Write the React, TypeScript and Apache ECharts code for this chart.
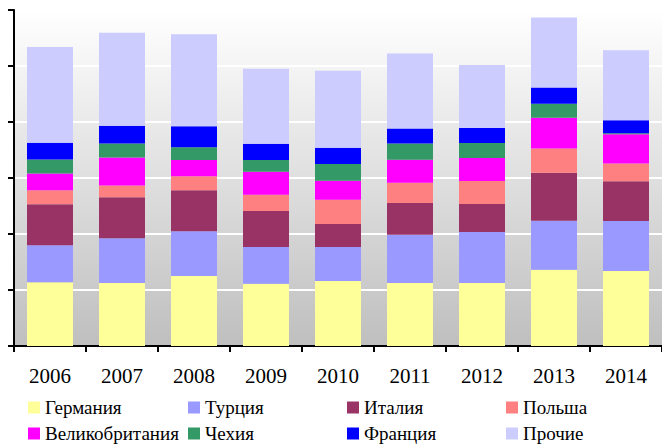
import React, { useEffect, useRef } from "react";
import * as echarts from "echarts";

const years = ["2006", "2007", "2008", "2009", "2010", "2011", "2012", "2013", "2014"];
const seriesNames = ["Германия", "Турция", "Италия", "Польша", "Великобритания", "Чехия", "Франция", "Прочие"];
const colors = ["#FFFF99", "#9999FF", "#993366", "#FF8080", "#FF00FF", "#339966", "#0000FF", "#CCCCFF"];

const germany = [1.14, 1.125, 1.25, 1.11, 1.16, 1.125, 1.125, 1.36, 1.34];
const turkey = [0.66, 0.8, 0.8, 0.66, 0.61, 0.86, 0.91, 0.875, 0.89];
const italy = [0.73, 0.73, 0.73, 0.64, 0.41, 0.57, 0.5, 0.86, 0.71];
const poland = [0.25, 0.21, 0.25, 0.29, 0.43, 0.36, 0.41, 0.43, 0.32];
const uk = [0.3, 0.5, 0.29, 0.41, 0.34, 0.41, 0.41, 0.55, 0.52];
const czech = [0.25, 0.25, 0.23, 0.21, 0.3, 0.29, 0.27, 0.25, 0.02];
const france = [0.3, 0.32, 0.375, 0.29, 0.29, 0.27, 0.27, 0.29, 0.23];
const others = [1.71, 1.66, 1.64, 1.34, 1.375, 1.34, 1.125, 1.25, 1.25];

const allData = [germany, turkey, italy, poland, uk, czech, france, others];

const legendCols = [28, 188, 347, 506];
const legendRows = [398, 424];

export default function App() {
  const ref = useRef<HTMLDivElement>(null);
  useEffect(() => {
    if (!ref.current) return;
    const chart = echarts.init(ref.current, undefined, { renderer: "svg" });
    const font = "Liberation Serif, DejaVu Serif, serif";
    const legends = seriesNames.map((name, i) => ({
      data: [name],
      left: legendCols[i % 4],
      top: legendRows[Math.floor(i / 4)],
      padding: 0,
      icon: "rect",
      itemWidth: 12,
      itemHeight: 12,
      itemGap: 0,
      selectedMode: false,
      textStyle: { fontFamily: font, fontSize: 19, color: "#000" },
    }));
    chart.setOption({
      animation: false,
      backgroundColor: "#fff",
      grid: {
        left: 14,
        right: 0,
        top: 10,
        bottom: 99,
        show: true,
        borderWidth: 0,
        backgroundColor: new echarts.graphic.LinearGradient(0, 0, 0, 1, [
          { offset: 0, color: "#ffffff" },
          { offset: 1, color: "#bfbfbf" },
        ]),
      },
      legend: legends,
      xAxis: {
        type: "category",
        data: years,
        axisLine: { show: true, lineStyle: { color: "#000", width: 2 } },
        axisTick: { show: true, length: 6, lineStyle: { color: "#000", width: 2 } },
        axisLabel: { fontFamily: font, fontSize: 21, color: "#000", margin: 19 },
        splitLine: { show: false },
      },
      yAxis: {
        type: "value",
        min: 0,
        max: 6,
        interval: 1,
        axisLine: { show: true, lineStyle: { color: "#000", width: 2 } },
        axisTick: { show: true, length: 6, lineStyle: { color: "#000", width: 2 } },
        axisLabel: { show: false },
        splitLine: { show: true, lineStyle: { color: "#ffffff", width: 2 } },
      },
      series: seriesNames.map((name, i) => ({
        name,
        type: "bar",
        stack: "total",
        barWidth: 46,
        data: allData[i],
        itemStyle: { color: colors[i] },
      })),
    });
    return () => chart.dispose();
  }, []);
  return <div ref={ref} style={{ position: "fixed", left: 0, top: 0, width: 662, height: 445 }} />;
}
